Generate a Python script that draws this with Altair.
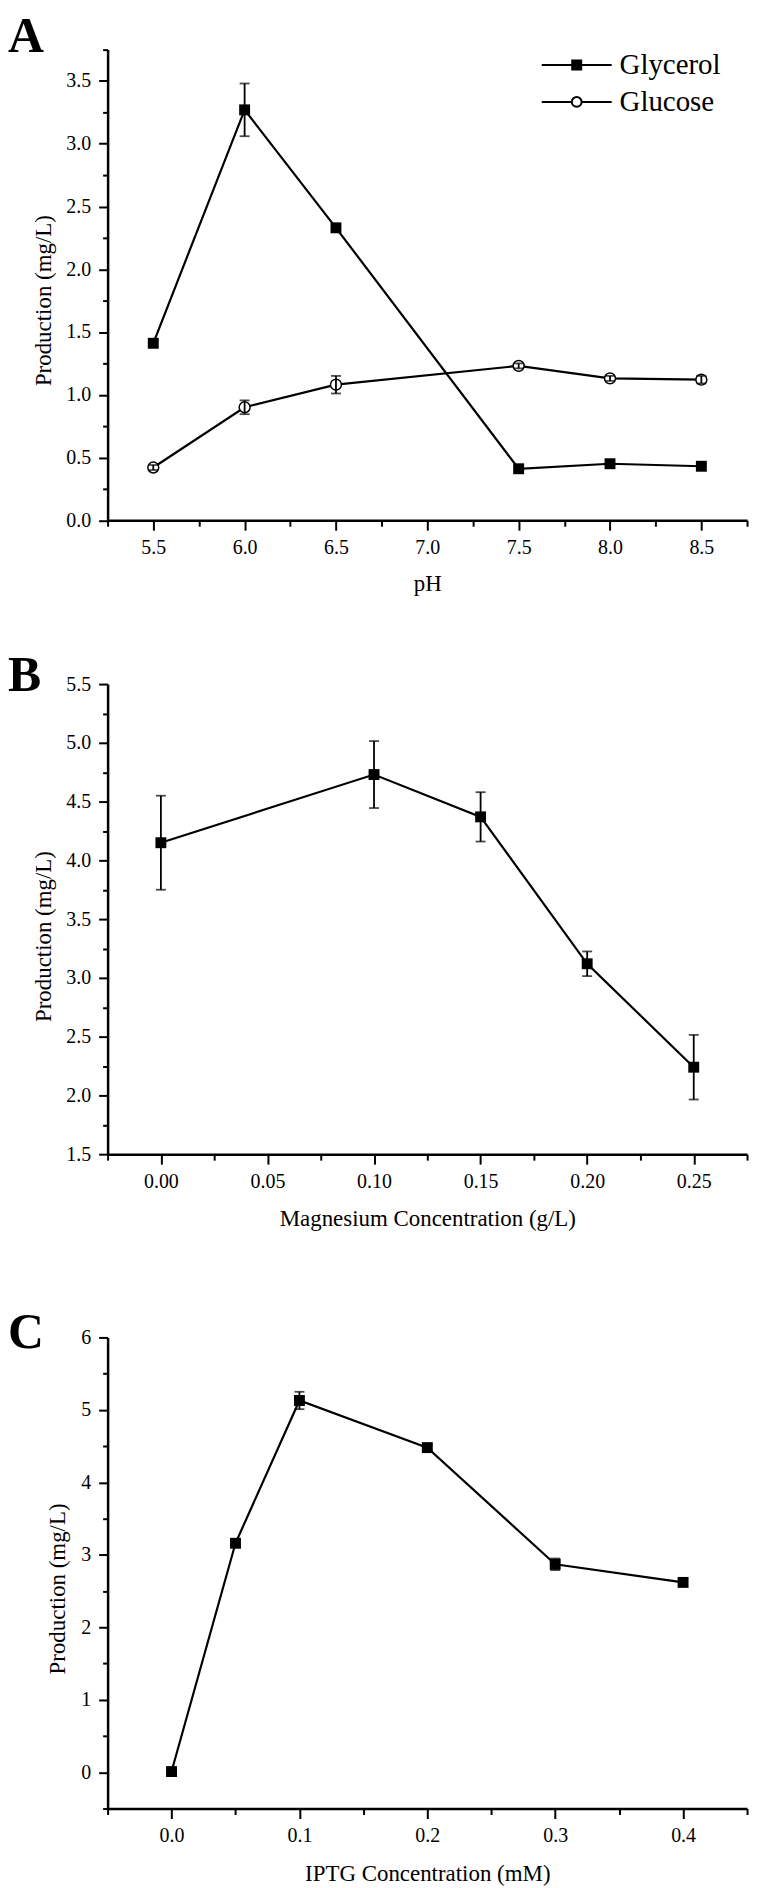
import altair as alt
import pandas as pd

FONT = "Liberation Serif"

# ---------------- Panel A : pH ----------------
ph_values = [5.5, 6.0, 6.5, 7.5, 8.0, 8.5]
glycerol_prod = [1.41, 3.27, 2.33, 0.41, 0.45, 0.43]
glycerol_err = [0.03, 0.21, 0.02, 0.02, 0.02, 0.02]
glucose_prod = [0.42, 0.90, 1.08, 1.23, 1.13, 1.12]
glucose_err = [0.02, 0.055, 0.07, 0.02, 0.02, 0.03]
series_names = ["Glycerol", "Glucose"]

# ---------------- Panel B : magnesium ----------------
mg_conc = [0.00, 0.10, 0.15, 0.20, 0.25]
mg_prod = [4.15, 4.73, 4.37, 3.12, 2.24]
mg_err = [0.40, 0.285, 0.21, 0.105, 0.275]

# ---------------- Panel C : IPTG ----------------
iptg_conc = [0.0, 0.05, 0.1, 0.2, 0.3, 0.4]
iptg_prod = [0.01, 3.16, 5.13, 4.48, 2.87, 2.62]
iptg_err = [0.02, 0.04, 0.12, 0.04, 0.08, 0.05]

# ---------------- tick values (major + minor) ----------------
a_x_ticks = [5.25, 5.5, 5.75, 6.0, 6.25, 6.5, 6.75, 7.0, 7.25, 7.5, 7.75, 8.0, 8.25, 8.5, 8.75]
a_y_ticks = [0.0, 0.25, 0.5, 0.75, 1.0, 1.25, 1.5, 1.75, 2.0, 2.25, 2.5, 2.75, 3.0, 3.25, 3.5, 3.75]
b_x_ticks = [-0.025, 0.0, 0.025, 0.05, 0.075, 0.1, 0.125, 0.15, 0.175, 0.2, 0.225, 0.25, 0.275]
b_y_ticks = [1.5, 1.75, 2.0, 2.25, 2.5, 2.75, 3.0, 3.25, 3.5, 3.75, 4.0, 4.25, 4.5, 4.75, 5.0, 5.25, 5.5]
c_x_ticks = [-0.05, 0.0, 0.05, 0.1, 0.15, 0.2, 0.25, 0.3, 0.35, 0.4, 0.45]
c_y_ticks = [-0.5, 0, 0.5, 1, 1.5, 2, 2.5, 3, 3.5, 4, 4.5, 5, 5.5, 6]

W = 642
HA, HB, HC = 472.5, 472, 473
GAP1, GAP2 = 164, 184
LINE_W = 2.2
MSIZE = 120


def make_axis(title, values, mult, fmt, major, minor, pad, title_x=None, title_y=None):
    test = f"abs(datum.value*{mult} - round(datum.value*{mult})) < 0.001"
    kw = dict(
        title=title,
        values=values,
        labelExpr=f"({test}) ? format(datum.value, '{fmt}') : ''",
        tickSize={"condition": {"test": test, "value": major}, "value": minor},
        labelPadding=pad,
        labelOverlap=False,
        labelFlush=False,
        titleBaseline="middle",
    )
    if title_x is not None:
        kw["titleX"] = title_x
    if title_y is not None:
        kw["titleY"] = title_y
    return alt.Axis(**kw)


def letter(ch, y):
    return alt.Chart(pd.DataFrame({"t": [ch]})).mark_text(
        font=FONT, fontSize=50, fontWeight="bold", align="left",
        baseline="alphabetic", color="black"
    ).encode(text="t:N", x=alt.value(-100), y=alt.value(y))


def spacer(h):
    return alt.Chart(pd.DataFrame({"v": [0]})).mark_point(opacity=0).encode(
        x=alt.X("v:Q", axis=None), y=alt.Y("v:Q", axis=None)
    ).properties(width=W, height=h)


YTITLE = "Production (mg/L)"

# ---------------- Panel A ----------------
df_a = pd.DataFrame({
    "pH": ph_values + ph_values,
    "series": [series_names[0]] * len(ph_values) + [series_names[1]] * len(ph_values),
    "prod": glycerol_prod + glucose_prod,
    "err": glycerol_err + glucose_err,
})
ax_a_x = make_axis("pH", a_x_ticks, 2, ".1f", 10, 6, 7, title_y=64)
ax_a_y = make_axis(YTITLE, a_y_ticks, 2, ".1f", 9, 5, 8, title_x=-64, title_y=251.5)
xA = alt.X("pH:Q", scale=alt.Scale(domain=[5.25, 8.75], nice=False, zero=False), axis=ax_a_x)
yA_scale = alt.Scale(domain=[0, 3.75], nice=False, zero=False)


def yA(field):
    return alt.Y(f"{field}:Q", scale=yA_scale, axis=ax_a_y)


base_a = alt.Chart(df_a)
lines_a = base_a.mark_line(color="black", strokeWidth=LINE_W).encode(x=xA, y=yA("prod"), detail="series:N")
gly_pts = base_a.transform_filter("datum.series == 'Glycerol'").mark_point(
    shape="square", filled=True, color="black", size=MSIZE, opacity=1
).encode(x=xA, y=yA("prod"))
glu_pts = base_a.transform_filter("datum.series == 'Glucose'").mark_point(
    shape="circle", filled=True, fill="white", stroke="black", strokeWidth=1.5, size=MSIZE, opacity=1
).encode(x=xA, y=yA("prod"))
err_a = base_a.transform_calculate(
    lo="datum.prod - datum.err", hi="datum.prod + datum.err"
).mark_errorbar(ticks=True, size=10, thickness=1.8, color="black").encode(
    x=xA, y=yA("lo"), y2="hi:Q"
)

sq_path = "M-7.8,0H-1M1,0H7.8M-1,-1H1V1H-1Z"
circ_path = "M-7.8,0H-1.1M1.1,0H7.8M1.1,0A1.1,1.1,0,1,1,-1.1,0A1.1,1.1,0,1,1,1.1,0Z"
leg = alt.Legend(
    title=None, orient="none", legendX=456.5, legendY=1,
    labelFont=FONT, labelFontSize=29, labelColor="black", labelOffset=28.5,
    rowPadding=7, padding=0, symbolSize=81, symbolStrokeWidth=2,
    symbolStrokeColor="black", symbolOpacity=1,
)
legend_a = base_a.transform_filter("false").mark_point(
    filled=False, color="black", stroke="black", strokeWidth=2, opacity=1
).encode(
    x=xA, y=yA("prod"),
    shape=alt.Shape("series:N", scale=alt.Scale(domain=series_names, range=[sq_path, circ_path]), legend=leg),
    fill=alt.Fill("series:N", scale=alt.Scale(domain=series_names, range=["black", "white"]), legend=leg),
    stroke=alt.Stroke("series:N", scale=alt.Scale(domain=series_names, range=["black", "black"]), legend=leg),
)

panel_a = alt.layer(lines_a, gly_pts, glu_pts, err_a, legend_a, letter("A", 2.5)).properties(width=W, height=HA)

# ---------------- Panel B ----------------
df_b = pd.DataFrame({"mg": mg_conc, "prod": mg_prod, "err": mg_err})
ax_b_x = make_axis("Magnesium Concentration (g/L)", b_x_ticks, 20, ".2f", 10, 6, 7, title_y=65)
ax_b_y = make_axis(YTITLE, b_y_ticks, 2, ".1f", 9, 5, 8, title_x=-64.5, title_y=253)
xB = alt.X("mg:Q", scale=alt.Scale(domain=[-0.025, 0.275], nice=False, zero=False), axis=ax_b_x)
yB_scale = alt.Scale(domain=[1.5, 5.5], nice=False, zero=False)


def yB(field):
    return alt.Y(f"{field}:Q", scale=yB_scale, axis=ax_b_y)


base_b = alt.Chart(df_b)
panel_b = alt.layer(
    base_b.mark_line(color="black", strokeWidth=LINE_W).encode(x=xB, y=yB("prod")),
    base_b.mark_point(shape="square", filled=True, color="black", size=MSIZE, opacity=1).encode(x=xB, y=yB("prod")),
    base_b.transform_calculate(lo="datum.prod - datum.err", hi="datum.prod + datum.err").mark_errorbar(
        ticks=True, size=10, thickness=1.8, color="black"
    ).encode(x=xB, y=yB("lo"), y2="hi:Q"),
    letter("B", 7),
).properties(width=W, height=HB)

# ---------------- Panel C ----------------
df_c = pd.DataFrame({"iptg": iptg_conc, "prod": iptg_prod, "err": iptg_err})
ax_c_x = make_axis("IPTG Concentration (mM)", c_x_ticks, 10, ".1f", 10, 6, 7, title_y=65)
ax_c_y = make_axis(YTITLE, c_y_ticks, 1, "d", 9, 5, 8, title_x=-50, title_y=252)
xC = alt.X("iptg:Q", scale=alt.Scale(domain=[-0.05, 0.45], nice=False, zero=False), axis=ax_c_x)
yC_scale = alt.Scale(domain=[-0.5, 6], nice=False, zero=False)


def yC(field):
    return alt.Y(f"{field}:Q", scale=yC_scale, axis=ax_c_y)


base_c = alt.Chart(df_c)
panel_c = alt.layer(
    base_c.mark_line(color="black", strokeWidth=LINE_W).encode(x=xC, y=yC("prod")),
    base_c.mark_point(shape="square", filled=True, color="black", size=MSIZE, opacity=1).encode(x=xC, y=yC("prod")),
    base_c.transform_calculate(lo="datum.prod - datum.err", hi="datum.prod + datum.err").mark_errorbar(
        ticks=True, size=10, thickness=1.8, color="black"
    ).encode(x=xC, y=yC("lo"), y2="hi:Q"),
    letter("C", 11),
).properties(width=W, height=HC)

chart = alt.vconcat(
    panel_a, spacer(GAP1), panel_b, spacer(GAP2), panel_c,
    spacing=0, bounds="flush",
).properties(
    padding={"left": 0, "top": 0, "right": 5, "bottom": 0}
).configure_axis(
    domainColor="black", domainWidth=2.5, tickColor="black", tickWidth=2,
    labelFont=FONT, labelFontSize=20, labelColor="black",
    titleFont=FONT, titleFontSize=23, titleFontWeight="normal", titleColor="black",
    grid=False,
).configure_view(stroke=None)

chart.save("out.html", embed_options={"renderer": "svg", "actions": False})
